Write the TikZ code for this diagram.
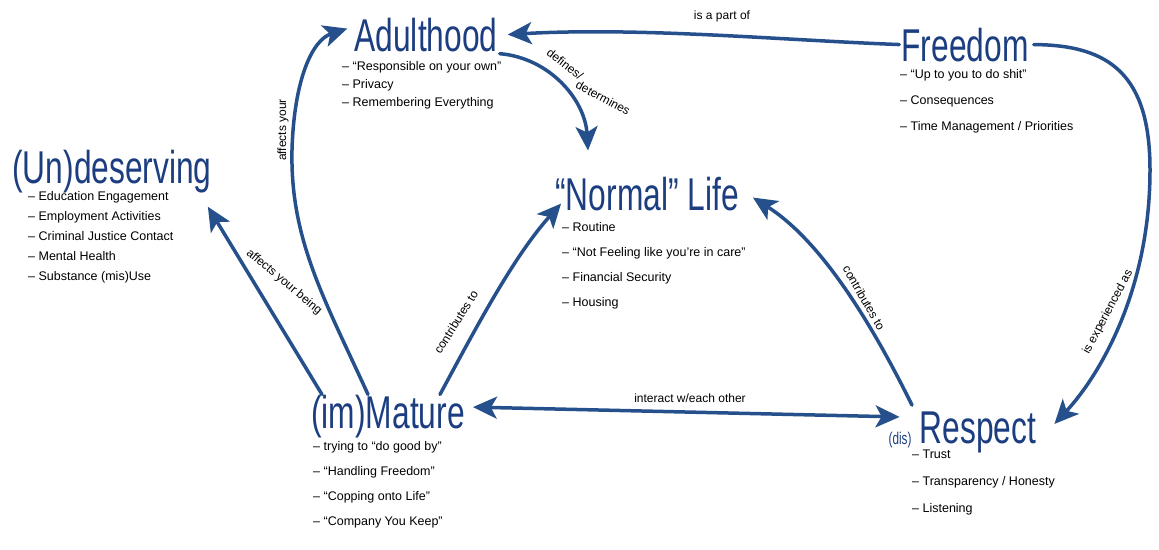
\documentclass[tikz,border=0pt]{standalone}
\usepackage{fontspec}
\setmainfont{Liberation Sans}
\newfontfamily\titlefont[FakeStretch=0.69]{Liberation Sans}
\usetikzlibrary{arrows.meta}
\definecolor{ink}{RGB}{38,80,140}
\definecolor{titleink}{RGB}{28,62,128}
\begin{document}
\begin{tikzpicture}[x=1pt,y=-1pt,
  title/.style={font=\titlefont\fontsize{46}{50}\selectfont, text=titleink, inner sep=2pt, anchor=base},
  items/.style={font=\fontsize{12.5}{#1}\selectfont, align=left, anchor=north west, inner sep=0pt},
  lbl/.style={font=\fontsize{12}{14}\selectfont, inner sep=1pt},
  conn/.style={draw=ink, line width=3.5pt, line cap=round},
  tip/.style={-{Stealth[length=24pt,width=22pt,inset=6pt]}},
  tips/.style={{Stealth[length=24pt,width=22pt,inset=6pt]}-{Stealth[length=24pt,width=22pt,inset=6pt]}}
]
\useasboundingbox (0,0) rectangle (1159,549);

% titles
\node[title] (adult) at (426,51) {Adulthood};
\node[title] (freedom) at (965,61) {Freedom};
\node[title] (undes) at (112,183) {(Un)deserving};
\node[title] (normal) at (647,210) {“Normal” Life};
\node[title] (mature) at (388,428) {(im)Mature};
\node[title] (respect) at (978,443) {Respect};
\node[font=\titlefont\fontsize{17}{19}\selectfont, text=titleink, inner sep=0pt] (dis) at (900,440) {(dis)};

% item lists
\node[items=18] (adultitems) at (342,61) {– “Responsible on your own”\\– Privacy\\– Remembering Everything};
\node[items=26] (freeitems) at (900,69) {– “Up to you to do shit”\\– Consequences\\– Time Management / Priorities};
\node[items=20] (undesitems) at (28,191) {– Education Engagement\\– Employment Activities\\– Criminal Justice Contact\\– Mental Health\\– Substance (mis)Use};
\node[items=25] (normalitems) at (562,222) {– Routine\\– “Not Feeling like you’re in care”\\– Financial Security\\– Housing};
\node[items=25] (matureitems) at (313,441) {– trying to “do good by”\\– “Handling Freedom”\\– “Copping onto Life”\\– “Company You Keep”};
\node[items=27] (respectitems) at (912,450) {– Trust\\– Transparency / Honesty\\– Listening};

% connectors
\draw[conn,tip] (freedom.west) .. controls (780,40) and (640,27) .. ([xshift=8pt]adult.east);
\draw[conn,tip] ([xshift=3pt]freedom.east) .. controls (1110,45) and (1150,75) .. (1150,170)
   .. controls (1150,290) and (1100,375) .. ([xshift=16pt,yshift=8pt]respect.east);
\draw[conn,tip] (adult.south east) .. controls (550,58) and (585,100) .. ([xshift=-59pt,yshift=24pt]normal.north);
\draw[conn,tip] ([xshift=-20pt,yshift=-2pt]mature.north) .. controls (325,300) and (290,240) .. (292,150)
   .. controls (294,80) and (312,40) .. ([xshift=-5pt,yshift=6pt]adult.west);
\draw[conn,tip] ([xshift=-66pt,yshift=-2pt]mature.north) -- ([xshift=-6pt,yshift=-12pt]undes.south east);
\draw[conn,tip] ([xshift=52pt,yshift=-2pt]mature.north) .. controls (480,320) and (515,255) .. ([xshift=8pt,yshift=-10pt]normal.west);
\draw[conn,tip] ([xshift=-66pt,yshift=4pt]respect.north) .. controls (870,320) and (820,240) .. ([xshift=12pt,yshift=-4pt]normal.east);
\draw[conn,tips] ([xshift=6pt,yshift=9pt]mature.east) -- ([xshift=-18pt,yshift=15pt]respect.west);

% connector labels
\node[lbl] (lpart) at (722,16) {is a part of};
\node[lbl,rotate=-38] (ldef1) at (565,64) {defines/};
\node[lbl,rotate=-28] (ldef2) at (603,98) {determines};
\node[lbl,rotate=90] (laff1) at (283,130) {affects your};
\node[lbl,rotate=-40] (laff2) at (284,282) {affects your being};
\node[lbl,rotate=58] (lcon1) at (456,322) {contributes to};
\node[lbl,rotate=-60] (lcon2) at (864,298) {contributes to};
\node[lbl] (linter) at (690,398) {interact w/each other};
\node[lbl,rotate=62] (lexp) at (1108,312) {is experienced as};
\end{tikzpicture}
\end{document}
